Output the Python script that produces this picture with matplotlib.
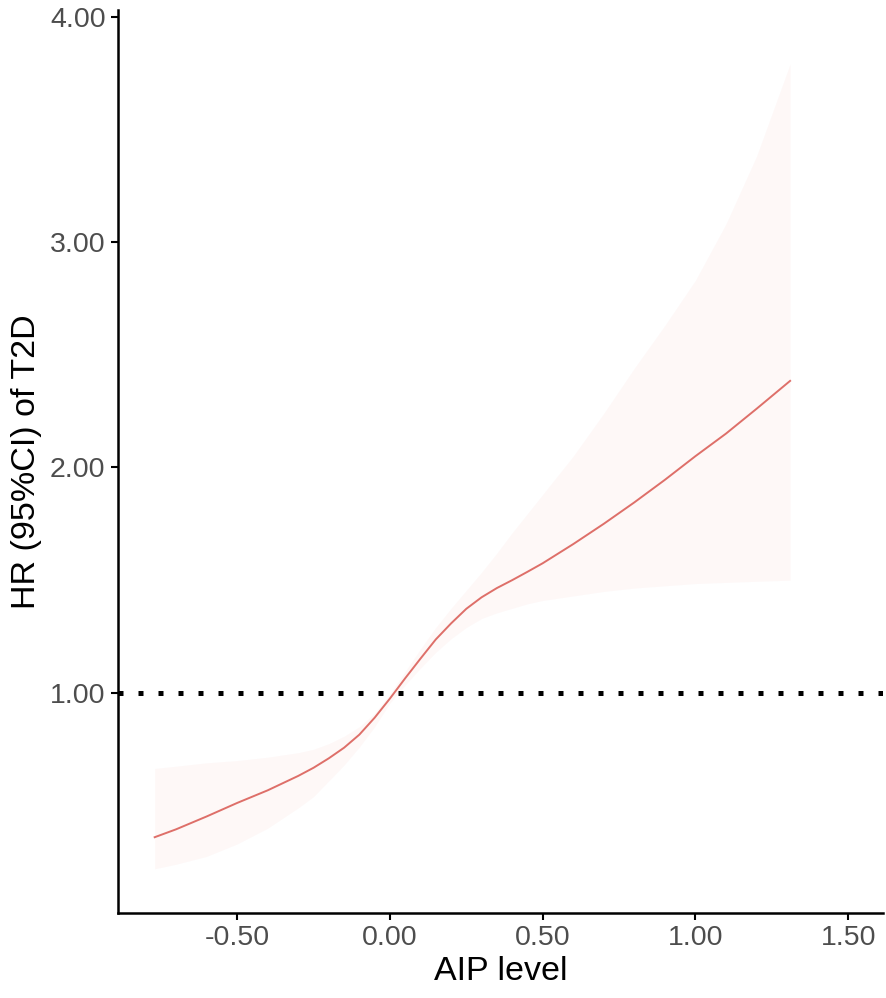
import matplotlib.pyplot as plt

plt.rcParams["font.family"] = ["Liberation Sans", "DejaVu Sans"]

# AIP level grid and hazard ratio with 95% CI
aip = [-0.77, -0.7, -0.6, -0.5, -0.4, -0.3, -0.25, -0.2, -0.15, -0.1, -0.05,
       0.0, 0.05, 0.1, 0.15, 0.2, 0.25, 0.3, 0.35, 0.4, 0.45, 0.5, 0.6, 0.7,
       0.8, 0.9, 1.0, 1.1, 1.2, 1.31]
hr = [0.36, 0.395, 0.452, 0.512, 0.568, 0.632, 0.668, 0.71, 0.757, 0.815,
      0.89, 0.975, 1.065, 1.152, 1.237, 1.308, 1.373, 1.424, 1.465, 1.50,
      1.537, 1.575, 1.66, 1.75, 1.845, 1.945, 2.05, 2.15, 2.26, 2.384]
hr_upper = [0.665, 0.675, 0.69, 0.70, 0.715, 0.735, 0.75, 0.775, 0.808, 0.85,
            0.91, 0.995, 1.095, 1.195, 1.29, 1.375, 1.455, 1.535, 1.62, 1.71,
            1.795, 1.88, 2.05, 2.24, 2.44, 2.63, 2.83, 3.08, 3.38, 3.79]
hr_lower = [0.22, 0.24, 0.275, 0.33, 0.40, 0.49, 0.54, 0.61, 0.68, 0.76, 0.85,
            0.955, 1.035, 1.11, 1.18, 1.24, 1.29, 1.33, 1.355, 1.375, 1.395,
            1.41, 1.43, 1.45, 1.465, 1.475, 1.485, 1.49, 1.495, 1.50]

xticks = [-0.5, 0.0, 0.5, 1.0, 1.5]
yticks = [1.0, 2.0, 3.0, 4.0]

fig = plt.figure(figsize=(8.86, 9.98), dpi=100)
ax = fig.add_axes([0.1332, 0.0852, 0.8634, 0.9048])

ax.fill_between(aip, hr_lower, hr_upper, color="#F8766D", alpha=0.05, lw=0)
ax.plot(aip, hr, color="#DE6F69", linewidth=1.4)
ax.axhline(1.0, color="black", linewidth=3.6, linestyle=(0, (1, 3)),
           dash_capstyle="butt")

ax.set_xlim(-0.89, 1.614)
ax.set_ylim(0.024, 4.029)
ax.set_xticks(xticks)
ax.set_xticklabels([f"{v:.2f}" for v in xticks])
ax.set_yticks(yticks)
ax.set_yticklabels([f"{v:.2f}" for v in yticks])

for s in ["top", "right"]:
    ax.spines[s].set_visible(False)
for s in ["left", "bottom"]:
    ax.spines[s].set_linewidth(1.8)

ax.tick_params(axis="both", length=5, width=1.5, labelsize=20.5,
               labelcolor="#4D4D4D", pad=4)
ax.set_xlabel("AIP level", fontsize=24.5, labelpad=3)
ax.set_ylabel("HR (95%CI) of T2D", fontsize=24.5, labelpad=6)

plt.savefig("out.png", dpi=100)
